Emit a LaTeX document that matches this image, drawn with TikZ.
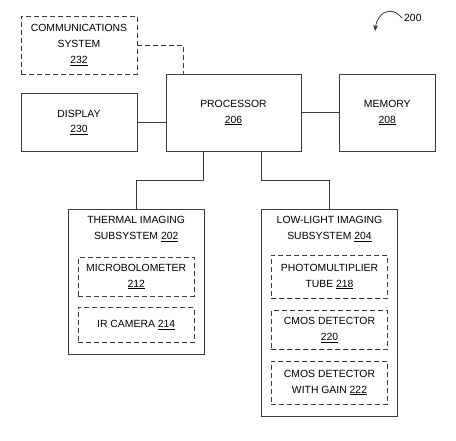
\documentclass[tikz,border=0pt]{standalone}
\usepackage{fontspec}
\setmainfont{Liberation Sans}
\usetikzlibrary{arrows.meta}
\definecolor{L1}{RGB}{60,60,60}

\begin{document}
\begin{tikzpicture}[x=1pt, y=-1pt,
    box/.style={draw=L1, line width=0.8pt, align=center, inner sep=0pt,
                font=\fontsize{10.4}{15.7}\selectfont},
    dbox/.style={box, dash pattern=on 5pt off 3pt},
    txt/.style={align=center, inner sep=0pt, font=\fontsize{10.4}{15.7}\selectfont},
    conn/.style={draw=L1, line width=0.8pt}]
      \useasboundingbox (0,0) rectangle (456,441);
      \node[dbox, minimum width=116pt, minimum height=58pt] (comm) at (79,45) {COMMUNICATIONS\\SYSTEM\\\underline{232}};
      \node[box, minimum width=116pt, minimum height=58pt] (disp) at (79,122.3) {DISPLAY\\\underline{230}};
      \node[box, minimum width=135pt, minimum height=77.3pt] (proc) at (233.5,112.7) {PROCESSOR\\\underline{206}};
      \node[box, minimum width=96pt, minimum height=77.3pt] (mem) at (387.3,112.7) {MEMORY\\\underline{208}};
      \node[box, minimum width=135.7pt, minimum height=144.7pt] (therm) at (136.2,281.7) {};
      \node[txt] (thermt) at (136.2,229) {THERMAL IMAGING\\SUBSYSTEM \underline{202}};
      \node[dbox, minimum width=116.3pt, minimum height=38.3pt] (micro) at (136.2,276.8) {MICROBOLOMETER\\\underline{212}};
      \node[dbox, minimum width=116.3pt, minimum height=34.6pt] (ircam) at (136.2,325) {IR CAMERA \underline{214}};
      \node[box, minimum width=135.6pt, minimum height=207.4pt] (low) at (329.5,313) {};
      \node[txt] (lowt) at (329.5,229) {LOW-LIGHT IMAGING\\SUBSYSTEM \underline{204}};
      \node[dbox, minimum width=116.4pt, minimum height=43.3pt] (pmt) at (329.5,276.7) {PHOTOMULTIPLIER\\TUBE \underline{218}};
      \node[dbox, minimum width=116.4pt, minimum height=38.6pt] (cmos) at (329.5,330) {CMOS DETECTOR\\\underline{220}};
      \node[dbox, minimum width=116.4pt, minimum height=43.3pt] (cmosg) at (329.5,382.7) {CMOS DETECTOR\\WITH GAIN \underline{222}};
      \node[txt, anchor=west] (fig) at (404,18) {200};
      \coordinate (tip) at (375,31);
      \draw[conn, dash pattern=on 5pt off 3pt] (comm.east) -| ([xshift=18pt]proc.north west);
      \draw[conn] (disp.east) -- (disp.east -| proc.west);
      \draw[conn] (proc) -- (mem);
      \draw[conn] ([xshift=-29.8pt]proc.south) -- ++(0,28.7) -| (therm.north);
      \draw[conn] ([xshift=28.2pt]proc.south) -- ++(0,28.7) -| (low.north);
      \draw[conn, -{Stealth[length=6pt,width=5pt]}] ([xshift=-2pt]fig.west) .. controls (390,4) and (377,14) .. (tip);
    \end{tikzpicture}
\end{document}
